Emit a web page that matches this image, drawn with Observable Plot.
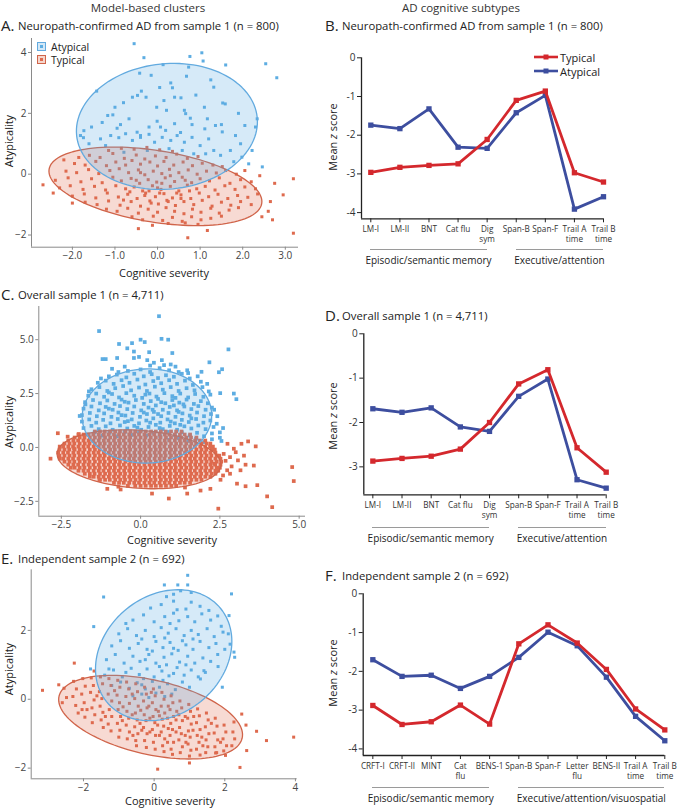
<!DOCTYPE html>
<html><head><meta charset="utf-8">
<script src="https://cdn.jsdelivr.net/npm/d3@7"></script>
<script src="https://cdn.jsdelivr.net/npm/@observablehq/plot@0.6"></script>
<style>
html,body{margin:0;padding:0;background:#fff;}
#fig{position:relative;width:678px;height:808px;font-family:"Open Sans",sans-serif;color:#222;overflow:hidden;background:#fff;}
.t{position:absolute;white-space:nowrap;line-height:1;}
.br{position:absolute;height:0;border-top:1px solid #9a9a9a;}
</style></head>
<body><div id="fig"></div>
<script>
// ---------------- DATA ----------------
// Line charts (mean z scores)
const catsB = ["LM-I","LM-II","BNT","Cat flu","Dig\nsym","Span-B","Span-F","Trail A\ntime","Trail B\ntime"];
const typicalB  = [-2.96,-2.83,-2.78,-2.74,-2.11,-1.10,-0.86,-2.97,-3.21];
const atypicalB = [-1.74,-1.83,-1.32,-2.31,-2.34,-1.42,-0.97,-3.91,-3.59];
const typicalD  = [-2.87,-2.81,-2.76,-2.60,-2.00,-1.13,-0.81,-2.57,-3.12];
const atypicalD = [-1.69,-1.77,-1.67,-2.10,-2.20,-1.41,-1.02,-3.29,-3.48];
const catsF = ["CRFT-I","CRFT-II","MINT","Cat\nflu","BENS-1","Span-B","Span-F","Letter\nflu","BENS-II","Trail A\ntime","Trail B\ntime"];
const typicalF  = [-2.88,-3.37,-3.30,-2.87,-3.36,-1.29,-0.80,-1.27,-1.95,-2.97,-3.51];
const atypicalF = [-1.70,-2.13,-2.10,-2.44,-2.13,-1.64,-0.99,-1.34,-2.15,-3.16,-3.79];
const groupsBD = [["Episodic/semantic memory",0,4],["Executive/attention",5,8]];
const groupsF  = [["Episodic/semantic memory",0,4],["Executive/attention/visuospatial",5,10]];
const zTicks = [0,-1,-2,-3,-4];

// Cluster ellipses: [cx, cy, ax, ay, bx, by]
const ellA = {typical:[-0.05,-0.40,2.5,-0.5,0,1.19], atypical:[0.22,1.57,2.12,0.3,-0.15,2.05]};
const ellC = {typical:[-0.05,-0.55,2.58,-0.27,0.05,1.34], atypical:[0.2,1.46,2.04,0.15,-0.1,2.18]};
const ellE = {typical:[-0.1,-0.52,2.52,-0.77,0.65,0.94], atypical:[0.27,1.28,1.93,0.4,0,1.86]};

// Scatter A (x,y pairs)
const atypA = [
-0.55,4.29,-0.32,3.83,0.76,3.87,1.04,3.99,1.07,3.72,1.6,3.59,2.54,3.63,2.8,3.17,0.13,3.6,0.73,3.52,-0.42,3.32,-1.43,2.73,-1.17,1.93,-1.05,1.95,2.34,1.82,2.3,1.55,1.32,2.86,1.53,2.34,0.68,3.22,2.14,0.34,2.46,0.24,1.98,0.56,1.79,0.41,
-1.55,1.55,-1.74,1.2,0.31,3.0,0.35,2.84,0.55,2.51,0.4,2.53,-0.59,2.53,-0.47,2.59,-0.38,2.73,-0.27,2.53,-0.02,2.2,0.15,2.42,0.21,2.1,0.66,1.99,0.77,1.84,0.63,2.1,0.81,1.63,1.11,1.49,1.17,1.82,1.36,1.6,1.5,1.63,1.59,2.31,-0.67,1.82,-0.95,1.51,-0.87,1.63,-0.2,1.55,-0.01,1.74,0.07,1.55,0.19,1.44,0.4,1.66,0.54,1.37,-0.48,1.38,-0.4,1.27,
-1.81,1.27,-1.34,1.16,-1.1,1.27,-0.91,1.2,-0.75,1.33,-0.59,1.11,-0.4,1.21,-0.2,1.31,-0.07,1.05,0.11,1.21,0.31,1.11,0.46,1.27,0.63,1.05,0.81,1.21,1.0,0.94,1.2,1.16,1.32,0.78,1.48,0.62,1.71,0.78,1.95,1.0,1.83,1.27,1.52,1.39,1.13,0.67,0.85,0.67,0.58,0.78,0.27,0.84,-0.24,0.78,-0.79,0.72,-1.22,0.94,-1.61,1.0,-1.73,1.43,2.22,0.78,
-1.0,2.2,-0.8,2.35,0.9,2.6,1.1,2.2,1.9,2.0,2.05,1.6,-1.3,1.7,0.05,2.85,1.25,3.1,-0.15,3.25
];
const typA = [
-1.15,0.78,-0.85,0.85,-0.55,0.82,-0.25,0.88,0.05,0.8,0.35,0.75,
-1.6,0.62,-1.35,0.55,-1.05,0.68,-0.78,0.52,-0.5,0.63,-0.3,0.5,-0.05,0.6,0.2,0.55,0.45,0.66,0.7,0.52,0.95,0.58,
-1.95,0.35,-1.7,0.3,-1.45,0.42,-1.2,0.28,-0.98,0.4,-0.75,0.3,-0.6,0.45,-0.4,0.33,-0.18,0.4,0.0,0.27,0.15,0.42,0.38,0.3,0.6,0.4,0.82,0.28,1.05,0.36,1.3,0.3,1.52,0.25,
-2.15,0.1,-1.9,0.05,-1.62,0.15,-1.38,0.02,-1.12,0.12,-0.9,0.18,-0.68,0.05,-0.45,0.14,-0.3,-0.02,-0.1,0.1,0.1,0.02,0.28,0.16,0.5,0.05,0.72,0.14,0.93,0.0,1.15,0.1,1.38,0.04,1.6,0.12,1.85,0.0,
-2.4,-0.2,-2.1,-0.12,-1.8,-0.25,-1.55,-0.15,-1.3,-0.28,-1.05,-0.1,-0.85,-0.22,-0.62,-0.14,-0.42,-0.3,-0.22,-0.18,-0.02,-0.26,0.18,-0.12,0.4,-0.24,0.58,-0.1,0.8,-0.28,1.0,-0.15,1.22,-0.22,1.45,-0.12,1.7,-0.3,1.95,-0.18,2.2,-0.25,
-2.3,-0.45,-2.05,-0.38,-1.75,-0.5,-1.48,-0.4,-1.22,-0.52,-0.98,-0.38,-0.75,-0.48,-0.55,-0.42,-0.35,-0.55,-0.12,-0.38,0.08,-0.5,0.3,-0.4,0.5,-0.55,0.7,-0.36,0.92,-0.48,1.12,-0.4,1.35,-0.52,1.58,-0.38,1.82,-0.5,2.05,-0.42,2.3,-0.48,
-2.0,-0.72,-1.72,-0.65,-1.45,-0.78,-1.18,-0.62,-0.92,-0.75,-0.7,-0.66,-0.48,-0.8,-0.28,-0.62,-0.05,-0.74,0.15,-0.64,0.35,-0.78,0.55,-0.68,0.78,-0.8,0.98,-0.62,1.2,-0.74,1.42,-0.66,1.65,-0.8,1.88,-0.7,2.12,-0.76,2.35,-0.65,
-1.7,-0.92,-1.42,-1.0,-1.15,-0.88,-0.88,-1.02,-0.62,-0.9,-0.4,-1.05,-0.18,-0.88,0.02,-0.98,0.22,-0.86,0.42,-1.03,0.62,-0.9,0.85,-1.0,1.05,-0.86,1.28,-1.05,1.5,-0.92,1.72,-1.02,1.95,-0.9,2.2,-1.0,
-1.2,-1.15,-0.95,-1.22,-0.7,-1.12,-0.45,-1.28,-0.22,-1.15,0.0,-1.25,0.2,-1.1,0.4,-1.22,0.62,-1.3,0.82,-1.15,1.02,-1.25,1.25,-1.12,1.45,-1.28,1.68,-1.18,1.9,-1.1,
-0.6,-1.4,-0.35,-1.5,-0.1,-1.38,0.12,-1.52,0.35,-1.42,0.58,-1.55,0.8,-1.4,1.02,-1.5,1.25,-1.45,1.5,-1.38,
0.25,-1.62,0.65,-1.6,0.95,-1.65,
-2.69,-0.35,3.19,-0.15,3.19,-1.94,2.95,-0.68,2.65,-0.9,2.6,-1.22,0.71,-2.09,1.17,-1.85,-0.45,-1.79,-0.12,-1.68,2.45,-1.4,2.05,0.12,2.4,-0.05,-2.2,0.47,-1.85,0.55,-2.45,-0.62,2.7,-1.5,-2.0,-0.95,2.75,-0.3,
-0.5,-0.2,-0.3,-0.7,0.0,-0.45,0.25,-0.9,0.45,-0.62,-0.15,-0.95,0.65,-0.2,-0.65,-0.58,0.1,-0.3,0.3,-0.05,-0.4,0.05,0.55,-0.8,-0.2,-0.55,0.75,-0.55,-0.8,-0.85,0.05,-0.62
];

// Scatter C
const atypC = [
-0.4,3.55,0.0,3.62,0.3,3.5,0.6,3.68,0.9,3.58,1.2,3.5,-0.7,3.5,1.5,3.45,
-1.0,3.3,-0.75,3.38,-0.45,3.25,-0.2,3.42,0.1,3.3,0.35,3.4,0.55,3.22,0.8,3.35,1.05,3.28,1.3,3.42,1.55,3.2,1.8,3.3,-1.25,3.2,
-1.35,3.0,-1.1,3.1,-0.85,2.95,-0.6,3.12,-0.35,3.0,-0.1,3.15,0.15,2.92,0.4,3.08,0.65,2.98,0.9,3.12,1.15,2.95,1.4,3.1,1.65,2.9,1.9,3.05,2.1,2.95,
-1.55,2.7,-1.3,2.8,-1.05,2.62,-0.8,2.75,-0.55,2.85,-0.3,2.65,-0.05,2.78,0.2,2.62,0.45,2.82,0.7,2.68,0.95,2.8,1.2,2.62,1.45,2.75,1.7,2.65,1.95,2.8,2.15,2.6,
-1.65,2.4,-1.4,2.5,-1.15,2.35,-0.9,2.48,-0.68,2.32,-0.45,2.52,-0.2,2.4,0.05,2.3,0.28,2.5,0.5,2.36,0.75,2.52,1.0,2.38,1.25,2.5,1.5,2.32,1.72,2.48,1.98,2.35,2.2,2.45,-1.0,2.55,0.15,2.45,1.1,2.3,
-1.75,2.1,-1.5,2.2,-1.28,2.05,-1.05,2.18,-0.82,2.02,-0.6,2.22,-0.38,2.08,-0.15,2.2,0.1,2.02,0.32,2.15,0.55,2.25,0.78,2.05,1.0,2.2,1.22,2.08,1.45,2.22,1.68,2.02,1.9,2.15,2.12,2.05,-0.5,2.12,0.65,2.1,1.35,2.0,
-1.8,1.8,-1.55,1.9,-1.32,1.72,-1.1,1.88,-0.88,1.75,-0.65,1.92,-0.42,1.78,-0.2,1.9,0.02,1.72,0.25,1.85,0.48,1.95,0.7,1.75,0.92,1.88,1.15,1.72,1.38,1.9,1.6,1.78,1.82,1.92,2.05,1.75,2.25,1.85,-1.0,1.8,0.38,1.75,1.05,1.95,
-1.85,1.5,-1.6,1.6,-1.38,1.45,-1.15,1.58,-0.92,1.42,-0.7,1.62,-0.48,1.48,-0.25,1.6,-0.02,1.42,0.2,1.55,0.42,1.65,0.65,1.45,0.88,1.6,1.1,1.42,1.32,1.58,1.55,1.48,1.78,1.62,2.0,1.45,2.22,1.55,-0.6,1.5,0.55,1.55,1.2,1.65,0.1,1.62,
-1.85,1.2,-1.62,1.3,-1.4,1.15,-1.18,1.28,-0.95,1.12,-0.72,1.32,-0.5,1.18,-0.28,1.3,-0.05,1.12,0.18,1.25,0.4,1.35,0.62,1.15,0.85,1.3,1.08,1.12,1.3,1.28,1.52,1.18,1.75,1.32,1.98,1.15,2.2,1.25,-0.4,1.22,0.3,1.15,0.95,1.2,1.6,1.35,
-1.8,0.9,-1.55,1.0,-1.32,0.85,-1.1,0.98,-0.88,0.82,-0.65,1.02,-0.42,0.88,-0.2,1.0,0.02,0.82,0.25,0.95,0.48,1.05,0.7,0.85,0.92,1.0,1.15,0.82,1.38,0.98,1.6,0.88,1.82,1.02,2.05,0.85,2.3,0.95,-0.1,0.92,0.6,0.9,1.25,1.05,
-1.7,0.6,-1.45,0.7,-1.2,0.55,-0.98,0.68,-0.75,0.52,-0.5,0.72,-0.28,0.58,-0.05,0.7,0.18,0.55,0.4,0.68,0.62,0.52,0.85,0.72,1.08,0.58,1.3,0.7,1.55,0.55,1.78,0.68,2.0,0.52,2.25,0.65,2.5,0.7,
1.5,0.3,1.75,0.4,2.0,0.25,2.25,0.38,2.55,0.3,1.2,0.42,0.9,0.35,
0.58,6.09,-1.31,5.4,0.0,5.0,0.13,4.89,0.66,5.04,0.87,5.0,-0.27,4.84,-0.68,4.8,-0.42,4.6,-0.21,4.45,0.27,4.42,-1.2,4.1,-1.1,4.1,-0.74,4.15,-0.21,4.15,-0.05,4.2,2.77,4.55,2.17,3.95,2.57,3.63,1.0,4.38,0.21,4.05,0.42,3.93,0.67,4.05,0.74,3.82,2.94,2.5,3.02,2.24,2.51,2.52,2.32,1.75,2.42,1.45,2.6,0.9,-1.63,2.6,-1.74,2.0,-1.92,1.46,1.92,3.51,1.47,3.58,
0.95,3.85,1.1,3.75,0.3,3.8,-0.5,3.75,-0.9,3.65,2.47,3.49,2.4,1.1,2.5,0.45
];
// Scatter C typical: rows [y, x, x, ...]
const typCrows = [
[0.74,-1.44,-1.28,-1.13,-0.96,-0.8,-0.65,-0.48,-0.32,-0.17,0.0,0.16,0.33,0.48,0.64,0.79,0.96,1.12,1.29],
[0.6,-1.96,-1.8,-1.64,-1.49,-1.32,-1.16,-1.01,-0.84,-0.68,-0.53,-0.36,-0.2,-0.05,0.12,0.28,0.43,0.6,0.76,0.91,1.08,1.24,1.39,1.56],
[0.46,-2.08,-1.92,-1.77,-1.6,-1.44,-1.29,-1.12,-0.96,-0.81,-0.64,-0.48,-0.33,-0.16,0.0,0.15,0.32,0.48,0.63,0.8,0.96,1.11,1.28,1.44,1.59,1.76],
[0.32,-2.28,-2.12,-1.97,-1.8,-1.64,-1.49,-1.32,-1.16,-1.01,-0.84,-0.68,-0.53,-0.36,-0.2,-0.05,0.12,0.28,0.43,0.6,0.76,0.91,1.08,1.24,1.39,1.56,1.72,1.87,2.04],
[0.18,-2.4,-2.24,-2.09,-1.92,-1.76,-1.61,-1.44,-1.28,-1.13,-0.96,-0.8,-0.65,-0.48,-0.32,-0.17,0.0,0.16,0.31,0.48,0.64,0.79,0.96,1.12,1.27,1.44,1.6,1.75,1.92,2.08,2.2],
[0.04,-2.55,-2.44,-2.28,-2.13,-1.96,-1.8,-1.65,-1.48,-1.32,-1.17,-1.0,-0.84,-0.69,-0.52,-0.36,-0.21,-0.04,0.12,0.27,0.44,0.6,0.75,0.92,1.08,1.23,1.4,1.56,1.71,1.88,2.04,2.19,2.28],
[-0.1,-2.56,-2.4,-2.25,-2.08,-1.92,-1.77,-1.6,-1.44,-1.29,-1.12,-0.96,-0.81,-0.64,-0.48,-0.33,-0.16,0.0,0.15,0.32,0.48,0.63,0.8,0.96,1.11,1.28,1.44,1.59,1.76,1.92,2.07,2.24,2.34],
[-0.24,-2.6,-2.44,-2.29,-2.12,-1.96,-1.81,-1.64,-1.48,-1.33,-1.16,-1.0,-0.85,-0.68,-0.52,-0.37,-0.2,-0.04,0.11,0.28,0.44,0.59,0.76,0.92,1.07,1.24,1.4,1.55,1.72,1.88,2.03,2.2,2.36],
[-0.38,-2.56,-2.4,-2.24,-2.09,-1.92,-1.76,-1.61,-1.44,-1.28,-1.13,-0.96,-0.8,-0.65,-0.48,-0.32,-0.17,0.0,0.16,0.31,0.48,0.64,0.79,0.96,1.12,1.27,1.44,1.6,1.75,1.92,2.08,2.23,2.4,2.48],
[-0.52,-2.55,-2.44,-2.28,-2.13,-1.96,-1.8,-1.65,-1.48,-1.32,-1.17,-1.0,-0.84,-0.69,-0.52,-0.36,-0.21,-0.04,0.12,0.27,0.44,0.6,0.75,0.92,1.08,1.23,1.4,1.56,1.71,1.88,2.04,2.19,2.36,2.52],
[-0.66,-2.4,-2.24,-2.09,-1.92,-1.76,-1.61,-1.44,-1.28,-1.13,-0.96,-0.8,-0.65,-0.48,-0.32,-0.17,0.0,0.16,0.31,0.48,0.64,0.79,0.96,1.12,1.27,1.44,1.6,1.75,1.92,2.08,2.23,2.4,2.54],
[-0.8,-2.28,-2.12,-1.97,-1.8,-1.64,-1.49,-1.32,-1.16,-1.01,-0.84,-0.68,-0.53,-0.36,-0.2,-0.05,0.12,0.28,0.43,0.6,0.76,0.91,1.08,1.24,1.39,1.56,1.72,1.87,2.04,2.2,2.35,2.52],
[-0.94,-2.2,-2.08,-1.92,-1.77,-1.6,-1.44,-1.29,-1.12,-0.96,-0.81,-0.64,-0.48,-0.33,-0.16,0.0,0.15,0.32,0.48,0.63,0.8,0.96,1.11,1.28,1.44,1.59,1.76,1.92,2.07,2.24,2.4,2.5],
[-1.08,-1.96,-1.8,-1.65,-1.48,-1.32,-1.17,-1.0,-0.84,-0.69,-0.52,-0.36,-0.21,-0.04,0.12,0.27,0.44,0.6,0.75,0.92,1.08,1.23,1.4,1.56,1.71,1.88,2.04,2.19,2.36,2.45],
[-1.22,-1.76,-1.6,-1.45,-1.28,-1.12,-0.97,-0.8,-0.64,-0.49,-0.32,-0.16,-0.01,0.16,0.32,0.47,0.64,0.8,0.95,1.12,1.28,1.43,1.6,1.76,1.91,2.08,2.24,2.36],
[-1.36,-1.6,-1.48,-1.32,-1.17,-1.0,-0.84,-0.69,-0.52,-0.36,-0.21,-0.04,0.12,0.27,0.44,0.6,0.75,0.92,1.08,1.23,1.4,1.56,1.71,1.88,2.04,2.2],
[-1.5,-1.28,-1.12,-0.97,-0.8,-0.64,-0.49,-0.32,-0.16,-0.01,0.16,0.32,0.47,0.64,0.8,0.95,1.12,1.28,1.43,1.6,1.76,1.92],
[-1.64,-0.84,-0.68,-0.53,-0.36,-0.2,-0.05,0.12,0.28,0.43,0.6,0.76,0.91,1.08,1.24,1.39,1.56],
[-1.78,-0.4,-0.17,0.0,0.16,0.33,0.48,0.64,0.8,0.97,1.12]
];
const typCout = [
-2.84,-0.52,-2.61,0.66,3.39,0.28,3.63,0.05,3.18,0.17,2.94,-0.06,2.82,-0.45,3.07,-0.6,3.31,-0.8,2.73,-1.06,3.04,-1.68,3.31,-1.8,3.68,-1.75,3.99,-2.27,4.15,-2.77,4.78,-0.91,4.83,-1.56,2.45,-2.84,0.89,-2.37,0.36,-2.14,-0.63,-1.95,-1.05,-1.92,1.89,-2.0,2.2,-1.92,1.47,-2.14,2.52,-1.5,2.42,-1.06,2.32,-0.75,2.82,-1.22,3.15,-1.06,2.87,-0.88,3.0,-0.22,3.26,-0.38,3.57,-0.84,2.74,0.17,-2.1,-0.05,
2.62,-0.3,2.68,-0.62,2.6,-1.3,-1.95,0.62,-2.3,0.5,-0.7,-1.82,1.4,-1.86,-1.3,-1.5
];

// Scatter E
const atypE = [
0.55,3.05,0.75,3.15,1.05,3.1,0.35,2.98,
0.2,2.75,0.55,2.85,0.9,2.62,1.05,2.82,1.3,2.7,0.65,2.6,-0.1,2.65,1.55,2.58,
-0.6,2.3,-0.3,2.45,0.0,2.25,0.3,2.4,0.55,2.5,0.7,2.28,0.95,2.4,1.15,2.25,1.35,2.48,1.6,2.3,1.8,2.42,-0.8,2.2,0.45,2.2,1.9,2.12,
-1.0,1.9,-0.75,2.05,-0.5,1.85,-0.25,2.0,0.0,1.82,0.2,2.08,0.4,1.92,0.62,2.05,0.85,1.85,1.05,2.0,1.25,1.88,1.5,2.05,1.7,1.82,1.95,1.95,-0.35,1.75,0.3,1.78,1.1,1.75,
-1.2,1.55,-0.95,1.7,-0.7,1.48,-0.45,1.62,-0.2,1.45,0.05,1.68,0.25,1.5,0.45,1.65,0.68,1.42,0.9,1.58,1.1,1.45,1.3,1.68,1.55,1.5,1.75,1.62,2.0,1.45,-0.05,1.4,0.8,1.7,0.55,1.48,
-1.35,1.15,-1.1,1.3,-0.85,1.05,-0.6,1.25,-0.4,1.1,-0.15,1.3,0.05,1.05,0.28,1.22,0.5,1.32,0.72,1.08,0.95,1.25,1.15,1.05,1.38,1.2,1.6,1.1,1.8,1.3,0.35,1.0,-0.25,1.15,0.9,1.0,
-1.4,0.7,-1.15,0.85,-0.9,0.65,-0.65,0.9,-0.42,0.72,-0.2,0.88,0.0,0.65,0.22,0.82,0.42,0.68,0.65,0.92,0.85,0.7,1.05,0.85,1.25,0.65,1.45,0.78,-0.3,0.6,0.15,0.95,0.55,0.75,-0.8,0.78,
-1.2,0.4,-0.95,0.5,-0.7,0.32,-0.48,0.48,-0.25,0.3,-0.05,0.52,0.15,0.35,0.38,0.45,0.6,0.28,0.8,0.5,1.0,0.35,-0.35,0.42,0.25,0.55,
-0.6,0.1,-0.35,0.15,-0.15,0.05,0.05,0.18,0.3,0.08,0.5,0.15,
0.95,3.6,0.29,3.32,0.67,3.32,0.95,3.32,-1.43,2.97,2.19,3.06,-1.71,2.11,2.26,1.37,2.28,1.22,2.12,2.43,1.81,0.95,1.93,0.35,-1.8,0.88,-1.28,0.88,1.31,0.59,1.41,0.83,2.1,1.9,2.15,1.6
];
const typE = [
-2.55,0.32,-2.48,0.05,-2.6,-0.1,
-2.28,0.52,-2.2,0.3,-2.3,0.08,-2.22,-0.18,-2.15,-0.4,
-2.02,0.6,-1.95,0.38,-2.05,0.15,-1.98,-0.1,-2.04,-0.3,-1.96,-0.52,
-1.78,0.62,-1.72,0.4,-1.8,0.2,-1.7,-0.02,-1.76,-0.25,-1.68,-0.45,-1.75,-0.68,
-1.52,0.65,-1.46,0.45,-1.55,0.22,-1.48,0.02,-1.53,-0.2,-1.45,-0.38,-1.5,-0.6,-1.44,-0.82,
-1.28,0.6,-1.22,0.4,-1.3,0.15,-1.2,-0.05,-1.27,-0.3,-1.2,-0.5,-1.3,-0.72,-1.22,-0.92,
-1.03,0.55,-0.97,0.35,-1.05,0.12,-0.98,-0.1,-1.02,-0.3,-0.95,-0.5,-1.04,-0.7,-0.97,-0.9,-1.0,-1.1,
-0.78,0.5,-0.72,0.3,-0.8,0.08,-0.7,-0.12,-0.77,-0.35,-0.72,-0.55,-0.79,-0.75,-0.7,-0.95,-0.76,-1.15,
-0.52,0.45,-0.47,0.22,-0.55,0.02,-0.45,-0.2,-0.53,-0.4,-0.48,-0.6,-0.55,-0.8,-0.46,-1.0,-0.52,-1.2,-0.5,-1.35,
-0.27,0.35,-0.22,0.15,-0.3,-0.05,-0.2,-0.25,-0.28,-0.45,-0.23,-0.62,-0.3,-0.82,-0.2,-1.0,-0.27,-1.2,-0.22,-1.4,
-0.02,0.3,0.03,0.1,-0.05,-0.1,0.05,-0.3,-0.03,-0.5,0.02,-0.68,-0.05,-0.88,0.04,-1.05,-0.02,-1.25,0.03,-1.45,
0.22,0.2,0.28,0.0,0.2,-0.2,0.3,-0.4,0.23,-0.58,0.27,-0.78,0.2,-0.95,0.3,-1.15,0.24,-1.35,0.28,-1.52,
0.48,0.1,0.53,-0.1,0.45,-0.3,0.55,-0.5,0.47,-0.7,0.52,-0.88,0.45,-1.05,0.55,-1.25,0.48,-1.45,0.52,-1.6,
0.73,-0.05,0.78,-0.25,0.7,-0.45,0.8,-0.62,0.72,-0.82,0.77,-1.0,0.7,-1.18,0.8,-1.38,0.74,-1.55,
0.98,-0.15,1.03,-0.35,0.95,-0.55,1.05,-0.72,0.97,-0.92,1.02,-1.1,0.96,-1.3,1.04,-1.48,1.0,-1.65,
1.23,-0.28,1.28,-0.48,1.2,-0.68,1.3,-0.88,1.22,-1.05,1.27,-1.25,1.2,-1.45,1.3,-1.62,
1.48,-0.4,1.53,-0.6,1.45,-0.8,1.55,-1.0,1.47,-1.18,1.52,-1.38,1.46,-1.55,
1.73,-0.55,1.78,-0.78,1.7,-0.98,1.8,-1.18,1.72,-1.38,1.77,-1.55,
1.98,-0.75,2.03,-0.95,1.95,-1.15,2.05,-1.35,1.97,-1.5,
2.23,-0.95,2.28,-1.15,2.2,-1.35,
-0.38,-0.32,-0.12,-0.55,0.12,-0.35,0.38,-0.55,-0.4,-0.7,0.1,-0.75,-0.15,-0.2,0.4,-0.2,0.62,-0.6,-0.62,-0.45,0.15,-1.05,0.62,-0.95,0.88,-0.5,-0.9,-0.62,1.1,-0.9,-0.12,-0.95,0.38,-1.25,0.9,-1.25,1.35,-1.1,-0.6,-1.05,
-1.62,0.1,-1.38,-0.5,-1.12,0.25,-0.88,-0.22,-0.62,0.15,-0.35,-0.9,-0.08,0.2,0.15,-0.48,0.4,-0.85,0.64,-0.35,0.88,-1.05,1.12,-0.5,1.38,-1.35,1.62,-0.7,1.88,-1.25,-1.9,-0.3,
-3.16,0.26,-2.26,1.05,3.95,-1.1,3.18,-1.2,2.9,-0.93,2.62,-1.49,2.43,-1.98,0.1,-2.03,2.48,-0.43,2.26,-0.66,2.02,-1.63,1.74,-1.56,-2.7,0.42,2.6,-0.75,1.0,-1.85,-1.7,0.82
];

// ---------------- RENDER ----------------
const BLUE = "#5DADE2", RED = "#DE6A4E", BLUE_E = "#62AADF", RED_E = "#D0644A";
const LRED = "#D4282D", LBLUE = "#3D4E9F";
const FONT = '"Open Sans", sans-serif';
const fig = document.getElementById("fig");

function txt(html, x, y, {size = 11, anchor = "start", rotate = false, color = "#222"} = {}) {
  const d = document.createElement("div");
  d.className = "t";
  d.innerHTML = html;
  d.style.left = x + "px"; d.style.top = y + "px";
  d.style.fontSize = size + "px"; d.style.color = color;
  const tx = anchor === "middle" ? "-50%" : anchor === "end" ? "-100%" : "0";
  d.style.transform = rotate ? "translate(-50%,-50%) rotate(-90deg)" : `translate(${tx},-50%)`;
  fig.appendChild(d);
  return d;
}
function place(svg, left, top) {
  svg.style.position = "absolute"; svg.style.left = left + "px"; svg.style.top = top + "px";
  fig.appendChild(svg);
}
const pairs = a => d3.range(0, a.length, 2).map(i => ({x: a[i], y: a[i + 1]}));
const rows = r => r.flatMap(([y, ...xs]) => xs.map(x => ({x, y})));
function ellipse([cx, cy, ax, ay, bx, by]) {
  return d3.range(120).map(k => {
    const t = 2 * Math.PI * k / 120;
    return {x: cx + ax * Math.cos(t) + bx * Math.sin(t), y: cy + ay * Math.cos(t) + by * Math.sin(t)};
  });
}
const baseStyle = {fontFamily: FONT, fontSize: "10px", color: "#333", background: "transparent", overflow: "visible"};

function scatter(o) {
  const [fx0, fx1, fy0, fy1] = o.frame;
  const svg = Plot.plot({
    width: o.width, height: o.height,
    marginLeft: fx0 - o.left, marginRight: o.left + o.width - fx1,
    marginTop: fy0 - o.top, marginBottom: o.top + o.height - fy1,
    style: baseStyle,
    x: {domain: o.xDomain}, y: {domain: o.yDomain},
    marks: [
      Plot.dot(o.atyp, {x: "x", y: "y", symbol: "square", r: o.r, fill: BLUE}),
      Plot.dot(o.typ, {x: "x", y: "y", symbol: "square", r: o.r, fill: RED}),
      Plot.line(ellipse(o.ell.typical), {x: "x", y: "y", curve: "linear-closed", fill: RED, fillOpacity: 0.25, stroke: RED_E, strokeWidth: 1.3}),
      Plot.line(ellipse(o.ell.atypical), {x: "x", y: "y", curve: "linear-closed", fill: BLUE, fillOpacity: 0.25, stroke: BLUE_E, strokeWidth: 1.3}),
      Plot.ruleX([o.xDomain[0]], {stroke: "#8a8a8a"}),
      Plot.ruleY([o.yDomain[0]], {stroke: "#8a8a8a"}),
      Plot.axisX({ticks: o.xTicks, tickFormat: o.xFmt, tickSize: 3, tickPadding: 2, stroke: "#8a8a8a", fill: "#444", fontSize: 10, label: null}),
      Plot.axisY({ticks: o.yTicks, tickFormat: o.yFmt, tickSize: 3, tickPadding: 2, stroke: "#8a8a8a", fill: "#444", fontSize: 10, label: null})
    ]
  });
  place(svg, o.left, o.top);
  return svg;
}

function linePanel(o) {
  const [fx0, fx1, fy0, fy1] = o.frame;
  const n = o.cats.length;
  const atyp = o.atyp.map((v, i) => ({i, v}));
  const typ = o.typ.map((v, i) => ({i, v}));
  const svg = Plot.plot({
    width: o.width, height: o.height,
    marginLeft: fx0 - o.left, marginRight: o.left + o.width - fx1,
    marginTop: fy0 - o.top, marginBottom: o.top + o.height - fy1,
    style: baseStyle,
    x: {domain: o.xDomain}, y: {domain: o.yDomain},
    marks: [
      Plot.ruleX([o.xDomain[0]], {stroke: "#222", strokeWidth: 1.3}),
      Plot.ruleY([o.yDomain[0]], {stroke: "#222", strokeWidth: 1.3}),
      Plot.line(atyp, {x: "i", y: "v", stroke: LBLUE, strokeWidth: 2.8}),
      Plot.dot(atyp, {x: "i", y: "v", symbol: "square", r: 3, fill: LBLUE}),
      Plot.line(typ, {x: "i", y: "v", stroke: LRED, strokeWidth: 2.8}),
      Plot.dot(typ, {x: "i", y: "v", symbol: "square", r: 3, fill: LRED}),
      Plot.axisX({ticks: d3.range(n), tickFormat: i => o.cats[i], tickSize: 4, tickPadding: 2, stroke: "#222", fill: "#333", fontSize: 8.2, lineHeight: 1.25, label: null}),
      Plot.axisY({ticks: zTicks.filter(t => t >= o.yDomain[0]), tickFormat: d => String(d), tickSize: 4, tickPadding: 2, stroke: "#222", fill: "#333", fontSize: 10, label: null})
    ]
  });
  place(svg, o.left, o.top);
  const sx = svg.scale("x");
  for (const [name, a, b] of o.groups) {
    const x1 = o.left + sx.apply(a), x2 = o.left + sx.apply(b);
    const d = document.createElement("div");
    d.className = "br";
    d.style.left = x1 + "px"; d.style.width = (x2 - x1) + "px"; d.style.top = o.bracketY + "px";
    fig.appendChild(d);
    txt(name, (x1 + x2) / 2, o.bracketY + 11, {size: 10, anchor: "middle", color: "#222"});
  }
  txt("Mean <i>z</i> score", o.ylabX, o.ylabY, {size: 11, rotate: true});
  return svg;
}

// Column headers
txt("Model-based clusters", 148, 8, {size: 11.5, anchor: "middle", color: "#333"});
txt("AD cognitive subtypes", 461, 8, {size: 11.5, anchor: "middle", color: "#333"});

// Panel titles
function title(letter, text, x, y) {
  txt(letter, x, y, {size: 15});
  txt(text, x + 17, y + 1, {size: 11.3});
}
title("A.", "Neuropath-confirmed AD from sample 1 (n = 800)", 1, 25);
title("B.", "Neuropath-confirmed AD from sample 1 (n = 800)", 325, 25);
title("C.", "Overall sample 1 (n = 4,711)", 1, 294);
title("D.", "Overall sample 1 (n = 4,711)", 325, 315);
title("E.", "Independent sample 2 (n = 692)", 1, 558);
title("F.", "Independent sample 2 (n = 692)", 325, 575);

const f1 = d3.format(".1f"), f0 = d3.format(".0f");

// A
scatter({atyp: pairs(atypA), typ: pairs(typA), ell: ellA, r: 1.7,
  left: 0, top: 30, width: 340, height: 255, frame: [31, 298, 38, 246.7],
  xDomain: [-2.96, 3.31], yDomain: [-2.4, 4.46], xTicks: [-2, -1, 0, 1, 2, 3], xFmt: f1, yTicks: [-2, 0, 2, 4], yFmt: f0});
txt("Cognitive severity", 164, 272, {size: 11, anchor: "middle"});
txt("Atypicality", 8, 141, {size: 11, rotate: true});
// A legend
function swatch(y, stroke, fill, inner) {
  const d = document.createElement("div");
  d.style.cssText = `position:absolute;left:37px;top:${y}px;width:9px;height:9px;border:1px solid ${stroke};background:${fill};box-sizing:border-box;`;
  const i = document.createElement("div");
  i.style.cssText = `position:absolute;left:2px;top:2px;width:3px;height:3px;background:${inner};`;
  d.appendChild(i); fig.appendChild(d);
}
swatch(42, BLUE_E, "#D3E8F7", BLUE);
txt("Atypical", 51, 46.5, {size: 10.5});
swatch(55, RED_E, "#F5D6CC", RED);
txt("Typical", 51, 59.5, {size: 10.5});

// B
linePanel({cats: catsB, typ: typicalB, atyp: atypicalB, groups: groupsBD,
  left: 320, top: 45, width: 358, height: 250, frame: [361, 603, 57.3, 218.3],
  xDomain: [-0.32, 8], yDomain: [-4.16, 0], bracketY: 249, ylabX: 332, ylabY: 137});
// B legend
function lineKey(y, color, label) {
  const s = document.createElementNS("http://www.w3.org/2000/svg", "svg");
  s.setAttribute("width", 24); s.setAttribute("height", 8);
  s.style.cssText = `position:absolute;left:534px;top:${y - 4}px;`;
  s.innerHTML = `<line x1="0" y1="4" x2="24" y2="4" stroke="${color}" stroke-width="2.6"/><rect x="9.5" y="1.5" width="5" height="5" fill="${color}"/>`;
  fig.appendChild(s);
  txt(label, 560, y, {size: 11});
}
lineKey(57, LRED, "Typical");
lineKey(71, LBLUE, "Atypical");

// C
scatter({atyp: pairs(atypC), typ: rows(typCrows).concat(pairs(typCout)), ell: ellC, r: 2.1,
  left: 0, top: 300, width: 340, height: 245, frame: [38.3, 305, 306, 515.7],
  xDomain: [-3.21, 5.2], yDomain: [-3.19, 6.54], xTicks: [-2.5, 0, 2.5, 5], xFmt: f1, yTicks: [-2.5, 0, 2.5, 5], yFmt: f1});
txt("Cognitive severity", 172, 539, {size: 11, anchor: "middle"});
txt("Atypicality", 8, 422, {size: 11, rotate: true});

// D
linePanel({cats: catsB, typ: typicalD, atyp: atypicalD, groups: groupsBD,
  left: 320, top: 320, width: 358, height: 230, frame: [363.3, 605.7, 333.3, 494.3],
  xDomain: [-0.31, 8], yDomain: [-3.63, 0], bracketY: 527, ylabX: 332, ylabY: 416});

// E
scatter({atyp: pairs(atypE), typ: pairs(typE), ell: ellE, r: 1.7,
  left: 0, top: 563, width: 340, height: 240, frame: [30.7, 296.7, 569.3, 778.3],
  xDomain: [-3.48, 4.05], yDomain: [-2.31, 3.76], xTicks: [-2, 0, 2, 4], xFmt: f0, yTicks: [-2, 0, 2], yFmt: f0});
txt("Cognitive severity", 170, 800, {size: 11, anchor: "middle"});
txt("Atypicality", 8, 669, {size: 11, rotate: true});

// F
linePanel({cats: catsF, typ: typicalF, atyp: atypicalF, groups: groupsF,
  left: 320, top: 580, width: 358, height: 228, frame: [362.7, 664.3, 593.3, 755],
  xDomain: [-0.33, 10], yDomain: [-4.17, 0], bracketY: 787, ylabX: 332, ylabY: 673});
</script>
</body></html>
